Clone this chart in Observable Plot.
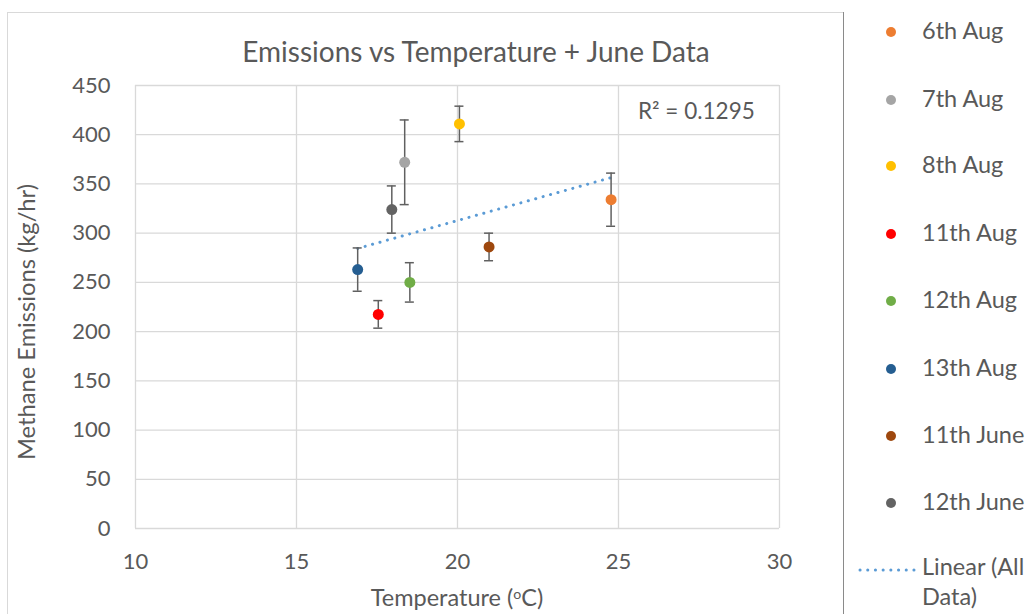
<!DOCTYPE html>
<html>
<head>
<meta charset="utf-8">
<script src="https://cdn.jsdelivr.net/npm/d3@7"></script>
<script src="https://cdn.jsdelivr.net/npm/@observablehq/plot@0.6"></script>
<style>
  html, body { margin: 0; padding: 0; background: #fff; }
  #wrap { position: relative; width: 1031px; height: 614px; overflow: hidden; background: #fff; font-family: Lato, "Open Sans", sans-serif; color: #595959; }
  #wrap svg { position: absolute; left: 0; top: 0; }
  .t { position: absolute; white-space: nowrap; line-height: 1; }
  #frame { position: absolute; left: 7px; top: 12px; width: 836px; height: 700px; border-left: 1px solid #d9d9d9; border-top: 1px solid #d9d9d9; }
  #legendbox { position: absolute; left: 843px; top: 12px; width: 300px; height: 700px; border-left: 1.5px solid #8a8a8a; background: #fff; }
  .lg { position: absolute; left: 922px; font-size: 23.5px; line-height: 1; white-space: nowrap; }
  .ld { position: absolute; left: 886px; width: 10px; height: 10px; border-radius: 50%; }
  sup { font-size: 0.6em; vertical-align: 0.5em; line-height: 0; }
</style>
</head>
<body>
<div id="wrap">
  <div id="frame"></div>
</div>
<script>
const dates = ["6th Aug", "7th Aug", "8th Aug", "11th Aug", "12th Aug", "13th Aug", "11th June", "12th June"];
const temps = [24.77, 18.36, 20.06, 17.54, 18.52, 16.90, 20.98, 17.96];
const emissions = [334, 372, 411, 217.5, 250, 263, 286, 324];
const errors = [27, 43, 18, 14, 20, 22, 14, 24];
const colors = ["#ED7D31", "#A5A5A5", "#FFC000", "#FF0000", "#70AD47", "#255E91", "#9E480E", "#636363"];
const xTicks = [10, 15, 20, 25, 30];
const yTicks = [0, 50, 100, 150, 200, 250, 300, 350, 400, 450];
const titleText = "Emissions vs Temperature + June Data";
const xTitle = "Temperature (<sup>o</sup>C)";
const yTitle = "Methane Emissions (kg/hr)";
const r2Text = "R² = 0.1295";
const trendLabel = ["Linear (All", "Data)"];

const data = dates.map((d, i) => ({date: d, temp: temps[i], em: emissions[i], err: errors[i]}));

const chart = Plot.plot({
  width: 1031,
  height: 614,
  marginLeft: 135,
  marginRight: 252,
  marginTop: 85,
  marginBottom: 86,
  style: {fontFamily: "Lato, 'Open Sans', sans-serif", fontSize: "22px", color: "#595959", background: "transparent"},
  x: {domain: [10, 30]},
  y: {domain: [0, 450]},
  color: {domain: dates, range: colors},
  marks: [
    Plot.gridX(xTicks, {stroke: "#d9d9d9", strokeOpacity: 1, strokeWidth: 1.3}),
    Plot.gridY(yTicks, {stroke: "#d9d9d9", strokeOpacity: 1, strokeWidth: 1.3}),
    Plot.axisX(xTicks, {tickSize: 0, tickPadding: 25, label: null, fontSize: 22, fill: "#595959"}),
    Plot.axisY(yTicks, {tickSize: 0, tickPadding: 25, label: null, fontSize: 22, fill: "#595959"}),
    Plot.linearRegressionY(data, {x: "temp", y: "em", ci: 0, stroke: "#5B9BD5", strokeWidth: 3, strokeDasharray: "0.1,7.6", strokeLinecap: "round"}),
    Plot.ruleX(data, {x: "temp", y1: d => d.em - d.err, y2: d => d.em + d.err, stroke: "#606060", strokeWidth: 1.5}),
    Plot.ruleY(data, {y: d => d.em + d.err, x1: d => d.temp - 0.14, x2: d => d.temp + 0.14, stroke: "#606060", strokeWidth: 1.5}),
    Plot.ruleY(data, {y: d => d.em - d.err, x1: d => d.temp - 0.14, x2: d => d.temp + 0.14, stroke: "#606060", strokeWidth: 1.5}),
    Plot.dot(data, {x: "temp", y: "em", fill: "date", r: 5.5})
  ]
});

const wrap = document.getElementById("wrap");
wrap.appendChild(chart);

function addText(html, size, left, top, extra) {
  const el = document.createElement("div");
  el.className = "t";
  el.style.fontSize = size + "px";
  el.style.left = left + "px";
  el.style.top = top + "px";
  if (extra) el.style.transform = extra;
  el.innerHTML = html;
  wrap.appendChild(el);
  return el;
}
addText(titleText, 28, 476, 62 - 0.887 * 28, "translateX(-50%)");
addText(xTitle, 23.5, 457, 607 - 0.887 * 23.5, "translateX(-50%)");
addText(yTitle, 23.7, 26.5, 322, "translate(-50%,-50%) rotate(-90deg)");
addText(r2Text, 22.5, 638, 120 - 0.887 * 22.5);

// legend
const lb = document.createElement("div");
lb.id = "legendbox";
wrap.appendChild(lb);
const rowY = [32, 100, 166, 234, 301, 369, 436, 503];
dates.forEach((d, i) => {
  const dot = document.createElement("div");
  dot.className = "ld";
  dot.style.top = (rowY[i] - 5) + "px";
  dot.style.background = colors[i];
  wrap.appendChild(dot);
  const t = document.createElement("div");
  t.className = "lg";
  t.style.top = (rowY[i] + 8 - 0.887 * 23.5) + "px";
  t.textContent = d;
  wrap.appendChild(t);
});
// trend legend sample
const sample = document.createElementNS("http://www.w3.org/2000/svg", "svg");
sample.setAttribute("width", 60);
sample.setAttribute("height", 10);
sample.style.left = "858px";
sample.style.top = "565px";
sample.innerHTML = '<line x1="2" y1="5" x2="56" y2="5" stroke="#5B9BD5" stroke-width="3" stroke-dasharray="0.1,7.6" stroke-linecap="round"/>';
wrap.appendChild(sample);
trendLabel.forEach((s, i) => {
  const t = document.createElement("div");
  t.className = "lg";
  t.style.top = (568 + i * 30 + 8 - 0.887 * 23.5) + "px";
  t.textContent = s;
  wrap.appendChild(t);
});
</script>
</body>
</html>
